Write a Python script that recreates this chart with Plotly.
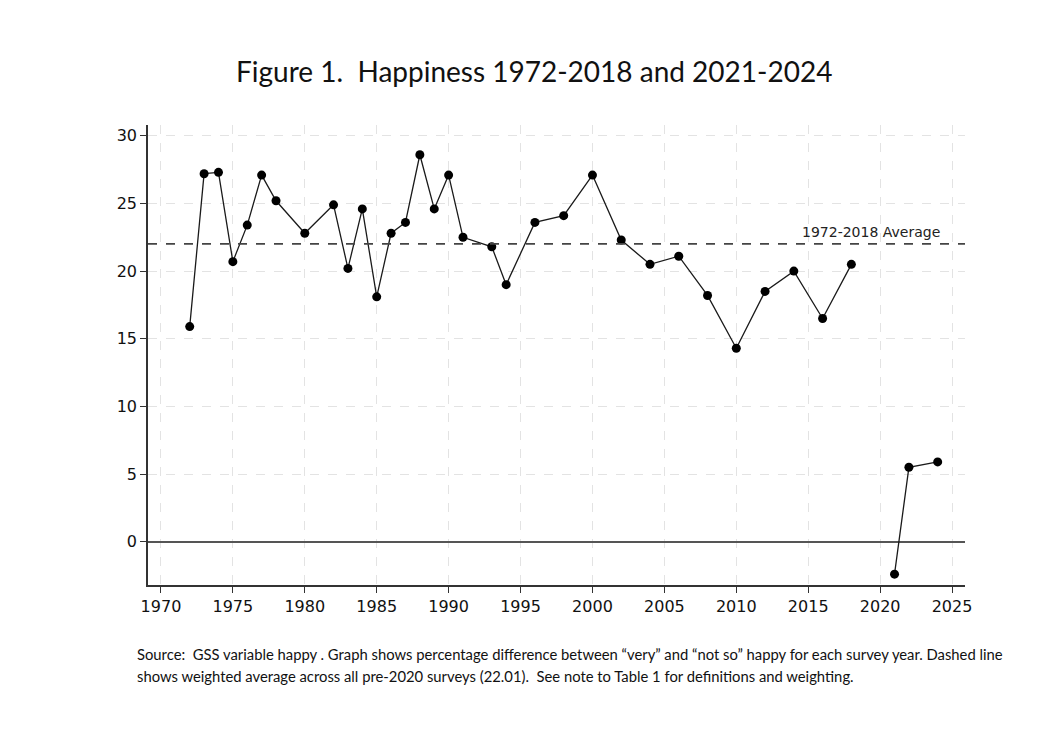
import plotly.graph_objects as go

# GSS happy: % "very" minus % "not so" happy, by survey year
years_pre = [1972, 1973, 1974, 1975, 1976, 1977, 1978, 1980, 1982, 1983, 1984,
             1985, 1986, 1987, 1988, 1989, 1990, 1991, 1993, 1994, 1996, 1998,
             2000, 2002, 2004, 2006, 2008, 2010, 2012, 2014, 2016, 2018]
happy_pre = [15.9, 27.2, 27.3, 20.7, 23.4, 27.1, 25.2, 22.8, 24.9, 20.2, 24.6,
             18.1, 22.8, 23.6, 28.6, 24.6, 27.1, 22.5, 21.8, 19.0, 23.6, 24.1,
             27.1, 22.3, 20.5, 21.1, 18.2, 14.3, 18.5, 20.0, 16.5, 20.5]
years_post = [2021, 2022, 2024]
happy_post = [-2.4, 5.5, 5.9]
avg_pre2020 = 22.01

x_ticks = [1970, 1975, 1980, 1985, 1990, 1995, 2000, 2005, 2010, 2015, 2020, 2025]
y_ticks = [0, 5, 10, 15, 20, 25, 30]

title_text = "Figure 1.  Happiness 1972-2018 and 2021-2024"
note_lines = [
    "Source:  GSS variable happy . Graph shows percentage difference between “very” and “not so” "
    "happy for each survey year. Dashed line",
    "shows weighted average across all pre-2020 surveys (22.01).  See note to Table 1 for "
    "definitions and weighting.",
]

calibri_like = "Lato, Carlito, Noto Sans, sans-serif"
axis_font = "DejaVu Sans, Liberation Sans, sans-serif"

fig = go.Figure()
for xs, ys in [(years_pre, happy_pre), (years_post, happy_post)]:
    fig.add_trace(go.Scatter(
        x=xs, y=ys, mode="lines+markers",
        line=dict(color="#1a1a1a", width=1.3),
        marker=dict(color="black", size=9),
        showlegend=False,
    ))

fig.add_shape(type="line", xref="paper", x0=0, x1=1, yref="y",
              y0=avg_pre2020, y1=avg_pre2020,
              line=dict(color="#444444", width=1.6, dash="dash"))
fig.add_annotation(x=2024.3, y=avg_pre2020, xanchor="right", yanchor="bottom",
                   yshift=2, text="1972-2018 Average", showarrow=False,
                   font=dict(family=axis_font, size=14, color="#222222"))

# page body has an 8px offset, margins compensate for it
fig.update_layout(
    width=1040, height=746,
    paper_bgcolor="white", plot_bgcolor="white",
    margin=dict(l=140, r=83, t=117, b=169),
    title=dict(text=title_text, x=0.506, xanchor="center", y=0.914, yanchor="middle",
               font=dict(family=calibri_like, size=28, color="#111111")),
    font=dict(family=axis_font, size=16, color="#111111"),
)
fig.update_xaxes(
    range=[1969.1, 2025.9], tickvals=x_ticks, ticks="outside", ticklen=6,
    tickcolor="#333333", showline=True, linecolor="#333333", linewidth=1.5,
    showgrid=True, gridcolor="#e3e3e3", griddash="dash", gridwidth=1,
    zeroline=False, tickfont=dict(size=16),
)
fig.update_yaxes(
    range=[-3.2, 30.8], tickvals=y_ticks, ticks="outside", ticklen=6,
    tickcolor="#333333", showline=True, linecolor="#333333", linewidth=1.5,
    showgrid=True, gridcolor="#e3e3e3", griddash="dash", gridwidth=1,
    zeroline=True, zerolinecolor="#555555", zerolinewidth=1.5,
    tickfont=dict(size=16),
)

for line, ypos in zip(note_lines, [-0.15, -0.198]):
    fig.add_annotation(xref="paper", yref="paper", x=-0.016, y=ypos,
                       xanchor="left", yanchor="middle", align="left", showarrow=False,
                       text=line,
                       font=dict(family=calibri_like, size=14.8, color="#111111"))

fig.write_html("out.html")
